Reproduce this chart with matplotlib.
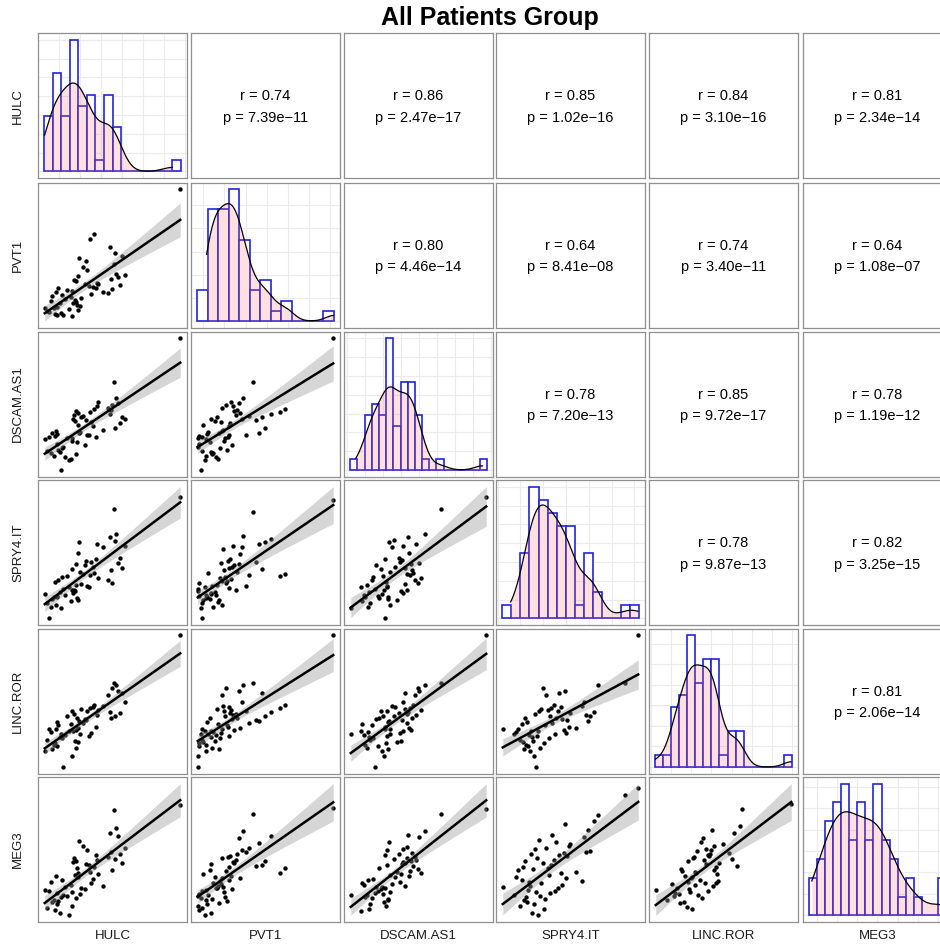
import numpy as np
import matplotlib
matplotlib.use("Agg")
import matplotlib.pyplot as plt
from matplotlib.ticker import MultipleLocator, MaxNLocator, AutoMinorLocator

plt.rcParams['font.family'] = ['Liberation Sans', 'DejaVu Sans']

# expression values (57 patients)
names = ['HULC', 'PVT1', 'DSCAM.AS1', 'SPRY4.IT', 'LINC.ROR', 'MEG3']

hulc = [1.05, 0.3, 1.45, 1.7, 1.8, 0.05, 2.1, 2.3, 2.7, 0.5,
        3.1, 0.7, 0.9, 2.9, 1.15, 1.25, 3.45, 1.35, 1.9, 3.75,
        1.55, 3.6, 3.95, 3.35, 2.5, 4.45, 3.2, 4.9, 3.05, 5.2,
        3.3, 4.1, 5.65, 3.5, 6.5, 4.75, 3.7, 7.05, 3.85, 5.35,
        7.5, 4.3, 7.8, 5.95, 4.6, 5.05, 8.35, 7.35, 5.5, 8.85,
        5.8, 8.6, 8.1, 7.2, 7.95, 7.65, 15.0]
pvt1 = [1.65, 1.3, 0.97, 2.05, 1.15, 1.6, 0.93, 2.5, 1.5, 1.25,
        0.9, 2.3, 2.75, 2.7, 1.05, 3.1, 2.2, 1.75, 2.85, 1.4,
        3.5, 1.95, 1.85, 2.4, 3.3, 3.95, 2.1, 3.7, 3.25, 2.95,
        4.3, 2.6, 3.55, 4.15, 3.15, 5.2, 4.65, 3.02, 6.35, 3.65,
        3.4, 5.5, 6.85, 3.9, 6.1, 8.2, 3.8, 4.4, 8.7, 4.8,
        4.05, 6.6, 4.55, 7.4, 4.9, 5.8, 12.97]
dscam = [2.7, 3.35, 4.3, 3.2, 0.8, 4.9, 3.9, 2.5, 2.1, 5.25,
         5.1, 3.05, 5.7, 2.3, 5.35, 5.95, 2.9, 5.6, 3.7, 6.85,
         3.5, 4.5, 5.85, 7.3, 5.02, 4.1, 7.65, 5.45, 4.7, 7.15,
         8.15, 7.8, 5.2, 8.65, 6.15, 5.5, 8.4, 9.1, 5.75, 6.6,
         9.5, 8.05, 6.4, 9.9, 7.4, 8.55, 7.05, 8.8, 8.9, 7.55,
         9.3, 7.9, 9.7, 8.3, 10.4, 12.5, 18.4]
spry4 = [3.35, 2.7, 3.55, 3.95, 2.1, 3.75, 4.35, 3.65, 4.6, 0.93,
         4.15, 2.3, 3.15, 2.9, 5.15, 2.5, 4.8, 3.45, 5.65, 3.05,
         5.3, 3.25, 6.3, 4.05, 5.8, 7.05, 3.85, 4.5, 6.6, 7.45,
         4.25, 4.9, 7.75, 7.2, 9.1, 4.7, 8.5, 5.4, 9.7, 6.9,
         5.05, 6.05, 9.9, 5.55, 7.6, 5.9, 7.9, 6.45, 6.2, 9.3,
         9.5, 6.75, 7.3, 10.3, 10.7, 13.5, 14.9]
linc = [2.9, 3.5, 2.7, 3.9, 4.3, 2.1, 0.05, 4.1, 4.6, 4.95,
        1.5, 4.5, 2.3, 5.5, 3.05, 4.88, 2.5, 5.8, 3.7, 3.2,
        5.35, 6.25, 4.2, 3.35, 6.6, 6.15, 4.7, 4.02, 7.15, 4.4,
        6.8, 7.5, 5.2, 4.8, 7.8, 7.25, 5.05, 9.2, 5.95, 7.7,
        10.2, 5.65, 6.5, 7.35, 6.05, 7.6, 6.9, 6.35, 7.9, 8.4,
        6.7, 9.5, 9.8, 7.05, 10.5, 10.8, 16.9]
meg3 = [2.7, 1.5, 3.7, 0.7, 3.05, 4.2, 3.35, 4.65, 0.33, 4.05,
        1.8, 5.4, 2.3, 4.95, 1.2, 6.2, 2.9, 2.1, 5.6, 6.7,
        2.5, 7.4, 3.5, 6.35, 3.2, 4.35, 8.35, 7.85, 3.9, 5.15,
        8.95, 4.5, 9.4, 8.5, 4.8, 10.2, 6.05, 9.15, 11.5, 5.85,
        7.15, 10.8, 8.8, 6.5, 8.05, 6.9, 9.6, 9.85, 7.6, 10.5,
        8.65, 8.2, 12.3, 12.7, 13.4, 16.1, 16.9]

data = [hulc, pvt1, dscam, spry4, linc, meg3]

# number of unit-width histogram bins per gene
n_bins = [16, 13, 19, 15, 17, 17]

# correlation labels shown in the upper triangle (row, col)
r_vals = {(0, 1): '0.74', (0, 2): '0.86', (0, 3): '0.85', (0, 4): '0.84', (0, 5): '0.81',
          (1, 2): '0.80', (1, 3): '0.64', (1, 4): '0.74', (1, 5): '0.64',
          (2, 3): '0.78', (2, 4): '0.85', (2, 5): '0.78',
          (3, 4): '0.78', (3, 5): '0.82',
          (4, 5): '0.81'}
p_vals = {(0, 1): '7.39e\u221211', (0, 2): '2.47e\u221217', (0, 3): '1.02e\u221216',
          (0, 4): '3.10e\u221216', (0, 5): '2.34e\u221214',
          (1, 2): '4.46e\u221214', (1, 3): '8.41e\u221208', (1, 4): '3.40e\u221211',
          (1, 5): '1.08e\u221207',
          (2, 3): '7.20e\u221213', (2, 4): '9.72e\u221217', (2, 5): '1.19e\u221212',
          (3, 4): '9.87e\u221213', (3, 5): '3.25e\u221215',
          (4, 5): '2.06e\u221214'}

# layout in pixels
W, H = 940, 944
lefts = [38, 191, 344, 496, 649, 803]
tops = [33, 182.5, 331.5, 480, 628.5, 777]
pw, ph = 149, 145
grid_step = [2.47, 2.0, 2.5, 2.5, 2.5, 2.5]
grid_off = [1.7, 0.6, 2.1, 2.0, 2.0, 1.0]

border = '#8f8f8f'
grid_col = '#ebebeb'


def kde(v):
    v = np.asarray(v, float)
    n = len(v)
    q75, q25 = np.percentile(v, [75, 25])
    bw = 0.9 * min(v.std(ddof=1), (q75 - q25) / 1.34) * n ** -0.2
    xs = np.linspace(v.min(), v.max(), 512)
    kd = np.exp(-0.5 * ((xs[:, None] - v[None, :]) / bw) ** 2).sum(1) / (n * bw * np.sqrt(2 * np.pi))
    return xs, kd


def style(ax):
    for s in ax.spines.values():
        s.set_color(border)
        s.set_linewidth(0.9)
    ax.tick_params(which='both', length=0, labelbottom=False, labelleft=False)


def draw_diag(ax, k):
    v = np.asarray(data[k], float)
    nb = n_bins[k]
    edges = np.arange(nb + 1)
    dens, _ = np.histogram(v, bins=edges, density=True)
    xs, kd = kde(v)
    top = max(dens.max(), kd.max())
    ax.set_xlim(-0.045 * nb, nb * 1.045)
    ax.set_ylim(-0.05 * top, top * 1.05)
    ax.xaxis.set_major_locator(MultipleLocator(grid_step[k], grid_off[k]))
    ax.yaxis.set_major_locator(MaxNLocator(4))
    ax.yaxis.set_minor_locator(AutoMinorLocator(2))
    ax.grid(True, which='both', color=grid_col, lw=0.8)
    ax.set_axisbelow(True)
    ax.bar(edges[:-1], dens, width=1, align='edge', facecolor='white',
           edgecolor='#2424d8', lw=1.2, zorder=2)
    ax.fill_between(xs, kd, color='#FF6666', alpha=0.2, lw=0, zorder=3)
    ax.plot(xs, kd, color='black', lw=0.9, zorder=4)
    style(ax)


def draw_scatter(ax, x, y):
    x = np.asarray(x, float)
    y = np.asarray(y, float)
    n = len(x)
    b, a = np.polyfit(x, y, 1)
    xs = np.linspace(x.min(), x.max(), 80)
    fit = a + b * xs
    s = np.sqrt(((y - (a + b * x)) ** 2).sum() / (n - 2))
    sxx = ((x - x.mean()) ** 2).sum()
    se = s * np.sqrt(1 / n + (xs - x.mean()) ** 2 / sxx)
    lo, hi = fit - 2.004 * se, fit + 2.004 * se
    ax.scatter(x, y, s=10, c='black', lw=0, zorder=2)
    ax.fill_between(xs, lo, hi, color='#999999', alpha=0.4, lw=0, zorder=3)
    ax.plot(xs, fit, color='black', lw=1.8, zorder=4)
    dx = x.max() - x.min()
    ymin, ymax = min(y.min(), lo.min()), max(y.max(), hi.max())
    dy = ymax - ymin
    ax.set_xlim(x.min() - 0.05 * dx, x.max() + 0.05 * dx)
    ax.set_ylim(ymin - 0.05 * dy, ymax + 0.05 * dy)
    ax.set_xticks([])
    ax.set_yticks([])
    style(ax)


fig = plt.figure(figsize=(W / 100, H / 100), dpi=100)

for i in range(6):
    for j in range(6):
        rect = [lefts[j] / W, (H - tops[i] - ph) / H, pw / W, ph / H]
        ax = fig.add_axes(rect)
        if i == j:
            draw_diag(ax, i)
        elif i > j:
            draw_scatter(ax, data[j], data[i])
        else:
            ax.set_xticks([])
            ax.set_yticks([])
            ax.text(0.5, 0.565, 'r = ' + r_vals[(i, j)], ha='center', va='center',
                    fontsize=10.5, transform=ax.transAxes)
            ax.text(0.5, 0.415, 'p = ' + p_vals[(i, j)], ha='center', va='center',
                    fontsize=10.5, transform=ax.transAxes)
            style(ax)

for k, name in enumerate(names):
    fig.text((lefts[k] + pw / 2) / W, 1 - 936 / H, name, ha='center', va='center',
             fontsize=9.5, color='#1a1a1a')
    fig.text(18 / W, 1 - (tops[k] + ph / 2) / H, name, ha='center', va='center',
             rotation=90, fontsize=9.5, color='#1a1a1a')

fig.text(490 / W, 1 - 18 / H, 'All Patients Group', ha='center', va='center',
         fontsize=18, fontweight='bold')

fig.savefig('out.png', dpi=100)
